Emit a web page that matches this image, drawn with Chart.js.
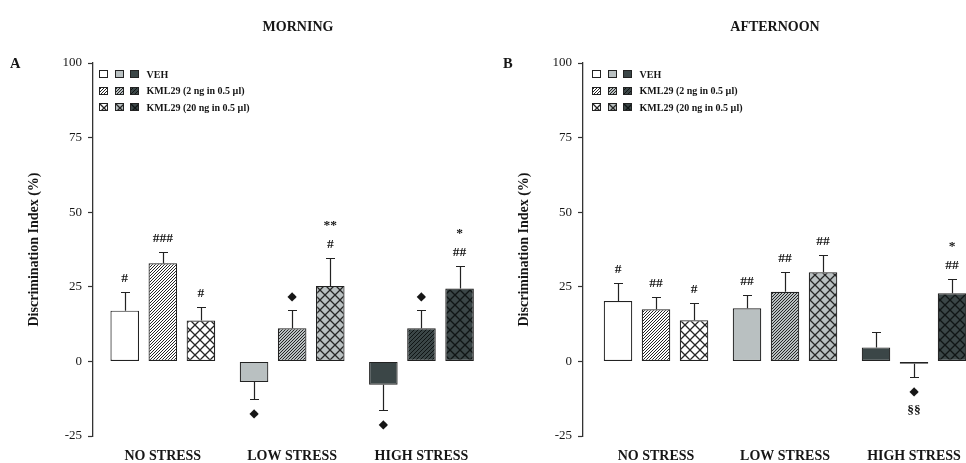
<!DOCTYPE html>
<html>
<head>
<meta charset="utf-8">
<title>Discrimination Index - morning / afternoon</title>
<script src="https://cdn.jsdelivr.net/npm/chart.js@4.4.0/dist/chart.umd.min.js"></script>
<style>
  body { margin: 0; background: #fff; font-family: "Liberation Serif", "DejaVu Serif", serif; color: #161616; }
  #page { position: relative; width: 966px; height: 463px; overflow: hidden; }
  .panel { position: absolute; top: 0; }
  .title { position: absolute; top: 20px; line-height: 14px; font-weight: bold; font-size: 14px; transform: translateX(-50%); white-space: nowrap; }
  .letter { position: absolute; top: 56px; line-height: 14px; font-weight: bold; font-size: 14.5px; }
  .legend { position: absolute; top: 66px; font-weight: bold; font-size: 10px; white-space: nowrap; }
  .legend .row { display: flex; align-items: center; height: 16.5px; }
  .legend canvas { width: 9px; height: 8px; margin-right: 6.5px; }
  .legend span { margin-left: 1px; }
</style>
</head>
<body>
<div id="page">
  <canvas id="morningChart" class="panel" width="490" height="463" style="left:0"></canvas>
  <canvas id="afternoonChart" class="panel" width="476" height="463" style="left:490px"></canvas>
  <div class="title" style="left:298px">MORNING</div>
  <div class="title" style="left:775px">AFTERNOON</div>
  <div class="letter" style="left:10px">A</div>
  <div class="letter" style="left:503px">B</div>
  <div class="legend" id="legendA" style="left:99px"></div>
  <div class="legend" id="legendB" style="left:592px"></div>
</div>

<script>
// 類別與系列
const groupLabels = ['NO STRESS', 'LOW STRESS', 'HIGH STRESS'];
const seriesNames = ['VEH', 'KML29 (2 ng in 0.5 µl)', 'KML29 (20 ng in 0.5 µl)'];
const yTicks = [-25, 0, 25, 50, 75, 100];

// 上午 (A)
const morningVeh = [17.0, -6.9, -7.8];
const morningKml2 = [32.9, 11.1, 11.1];
const morningKml20 = [13.7, 25.3, 24.4];
const morningVehErr = [6.3, 5.7, 8.5];
const morningKml2Err = [3.9, 6.2, 6.2];
const morningKml20Err = [4.4, 9.3, 7.6];
const morningVehMarks = [['#'], ['◆'], ['◆']];
const morningKml2Marks = [['###'], ['◆'], ['◆']];
const morningKml20Marks = [['#'], ['#', '**'], ['##', '*']];

// 下午 (B)
const afternoonVeh = [20.2, 17.8, 4.7];
const afternoonKml2 = [17.5, 23.3, -0.8];
const afternoonKml20 = [13.8, 29.9, 22.8];
const afternoonVehErr = [6.2, 4.4, 5.0];
const afternoonKml2Err = [4.1, 6.7, 4.5];
const afternoonKml20Err = [5.8, 5.7, 4.7];
const afternoonVehMarks = [['#'], ['##'], []];
const afternoonKml2Marks = [['##'], ['##'], ['◆', '§§']];
const afternoonKml20Marks = [['#'], ['##'], ['##', '*']];

// 顏色 (依壓力程度)
const baseColors = ['#ffffff', '#b9c0c1', '#3b4647'];
const lineColors = ['#262626', '#262626', '#101515'];
const edgeColor = '#222';
const textColor = '#161616';

const serif = '"Liberation Serif", "DejaVu Serif", serif';
Chart.defaults.font.family = serif;
Chart.defaults.color = textColor;

// 斜線圖樣
function makeHatch(base, line, step) {
    const c = document.createElement('canvas');
    c.width = step; c.height = step;
    const g = c.getContext('2d');
    g.fillStyle = base;
    g.fillRect(0, 0, step, step);
    g.strokeStyle = line;
    g.lineWidth = 1;
    g.beginPath();
    g.moveTo(-1, step + 1); g.lineTo(step + 1, -1);
    g.moveTo(-1, 1); g.lineTo(1, -1);
    g.moveTo(step - 1, step + 1); g.lineTo(step + 1, step - 1);
    g.stroke();
    return g.createPattern(c, 'repeat');
}

// 交叉格紋
function makeCross(base, line, step) {
    const c = document.createElement('canvas');
    c.width = step; c.height = step;
    const g = c.getContext('2d');
    g.fillStyle = base;
    g.fillRect(0, 0, step, step);
    g.strokeStyle = line;
    g.lineWidth = 1.3;
    g.beginPath();
    g.moveTo(0, 0); g.lineTo(step, step);
    g.moveTo(step, 0); g.lineTo(0, step);
    g.stroke();
    return g.createPattern(c, 'repeat');
}

const fills = [
    baseColors,
    baseColors.map((b, i) => makeHatch(b, lineColors[i], i === 2 ? 4 : 3)),
    baseColors.map((b, i) => makeCross(b, lineColors[i], 10))
];

// 誤差線與標記
const barExtras = {
    id: 'barExtras',
    afterDatasetsDraw(chart) {
        const ctx = chart.ctx;
        const yScale = chart.scales.y;
        ctx.save();
        chart.data.datasets.forEach((ds, s) => {
            chart.getDatasetMeta(s).data.forEach((bar, i) => {
                const v = ds.data[i].y;
                const sign = v < 0 ? -1 : 1;
                const end = Math.round(yScale.getPixelForValue(v + sign * ds.errors[i])) + 0.5;
                const x = Math.round(bar.x) + 0.5;
                ctx.strokeStyle = edgeColor;
                ctx.lineWidth = 1.2;
                ctx.beginPath();
                ctx.moveTo(x, bar.y);
                ctx.lineTo(x, end);
                ctx.moveTo(x - 4.5, end);
                ctx.lineTo(x + 4.5, end);
                ctx.stroke();

                ctx.fillStyle = textColor;
                ctx.textAlign = 'center';
                ctx.textBaseline = 'middle';
                ds.marks[i].forEach((m, k) => {
                    const my = end - sign * (14 + k * 19);
                    ctx.font = m === '◆' ? '12px "DejaVu Sans"' : 'bold 13.5px ' + serif;
                    ctx.fillText(m, bar.x, my);
                });
            });
        });
        ctx.restore();
    }
};

function buildChart(canvasId, values, errors, marks, xMin, xMax) {
    const datasets = seriesNames.map((name, s) => ({
        label: name,
        data: values[s].map((v, i) => ({ x: i, y: v })),
        errors: errors[s],
        marks: marks[s],
        backgroundColor: fills[s],
        borderColor: edgeColor,
        borderWidth: 1.2,
        borderSkipped: false,
        categoryPercentage: 0.884,
        barPercentage: 0.75
    }));

    return new Chart(document.getElementById(canvasId), {
        type: 'bar',
        data: { datasets: datasets },
        options: {
            responsive: false,
            animation: false,
            layout: { padding: { top: 63, right: 0, bottom: 0, left: 0 } },
            plugins: { legend: { display: false }, tooltip: { enabled: false } },
            scales: {
                x: {
                    type: 'linear',
                    min: xMin,
                    max: xMax,
                    offset: false,
                    grid: { display: false, drawTicks: false },
                    border: { display: false },
                    afterBuildTicks: scale => { scale.ticks = groupLabels.map((_, i) => ({ value: i })); },
                    afterFit: scale => {
                        scale.height = 27;
                        scale.paddingLeft = 0;
                        scale.paddingRight = 0;
                    },
                    ticks: {
                        callback: v => groupLabels[v],
                        autoSkip: false,
                        maxRotation: 0,
                        padding: 12,
                        color: textColor,
                        font: { size: 14, weight: 'bold' }
                    }
                },
                y: {
                    min: -25,
                    max: 100,
                    afterBuildTicks: scale => { scale.ticks = yTicks.map(v => ({ value: v })); },
                    afterFit: scale => { scale.width = 93; },
                    ticks: { padding: 6, color: textColor, font: { size: 13 } },
                    grid: { drawOnChartArea: false, tickLength: 5, tickColor: '#333', tickWidth: 1.2 },
                    border: { color: '#333', width: 1.3 },
                    title: {
                        display: true,
                        text: 'Discrimination Index (%)',
                        color: textColor,
                        font: { size: 14, weight: 'bold' },
                        padding: { top: 26, bottom: 0 }
                    }
                }
            }
        },
        plugins: [barExtras]
    });
}

// 圖例
function buildLegend(id) {
    const box = document.getElementById(id);
    seriesNames.forEach((name, s) => {
        const row = document.createElement('div');
        row.className = 'row';
        baseColors.forEach((_, c) => {
            const sw = document.createElement('canvas');
            sw.width = 9; sw.height = 8;
            const g = sw.getContext('2d');
            g.fillStyle = fills[s][c];
            g.fillRect(0, 0, 9, 8);
            g.strokeStyle = edgeColor;
            g.lineWidth = 1;
            g.strokeRect(0.5, 0.5, 8, 7);
            row.appendChild(sw);
        });
        const label = document.createElement('span');
        label.textContent = name;
        row.appendChild(label);
        box.appendChild(row);
    });
}

buildChart('morningChart',
    [morningVeh, morningKml2, morningKml20],
    [morningVehErr, morningKml2Err, morningKml20Err],
    [morningVehMarks, morningKml2Marks, morningKml20Marks],
    -0.54, 2.53);

buildChart('afternoonChart',
    [afternoonVeh, afternoonKml2, afternoonKml20],
    [afternoonVehErr, afternoonKml2Err, afternoonKml20Err],
    [afternoonVehMarks, afternoonKml2Marks, afternoonKml20Marks],
    -0.566, 2.403);

buildLegend('legendA');
buildLegend('legendB');
</script>
</body>
</html>
